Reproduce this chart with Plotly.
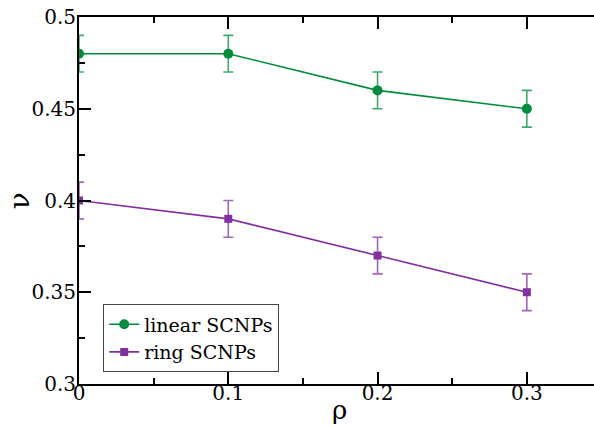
import plotly.graph_objects as go

rho = [0.0, 0.1, 0.2, 0.3]
nu_linear = [0.48, 0.48, 0.46, 0.45]
err_linear = [0.01, 0.01, 0.01, 0.01]
nu_ring = [0.40, 0.39, 0.37, 0.35]
err_ring = [0.01, 0.01, 0.01, 0.01]

green = "rgb(0,140,60)"
purple = "rgb(128,48,160)"
font = "DejaVu Serif"

fig = go.Figure()
fig.add_trace(go.Scatter(
    x=rho, y=nu_linear, mode="lines+markers", name="linear SCNPs",
    line=dict(color=green, width=1.6),
    marker=dict(symbol="circle", size=10, color=green),
    error_y=dict(type="data", array=err_linear, color="rgba(0,140,60,0.75)", thickness=1.6, width=5),
))
fig.add_trace(go.Scatter(
    x=rho, y=nu_ring, mode="lines+markers", name="ring SCNPs",
    line=dict(color=purple, width=1.6),
    marker=dict(symbol="square", size=8, color=purple),
    error_y=dict(type="data", array=err_ring, color="rgba(128,48,160,0.75)", thickness=1.6, width=5),
))

fig.update_layout(
    width=594, height=429,
    margin=dict(l=79, r=0, t=17, b=45, autoexpand=False),
    paper_bgcolor="white", plot_bgcolor="white",
    font=dict(family=font, size=20, color="black"),
    showlegend=True,
    legend=dict(
        x=0.047, y=0.217, xanchor="left", yanchor="top",
        bgcolor="white", bordercolor="#444", borderwidth=1,
        font=dict(family=font, size=19),
        tracegroupgap=0, itemwidth=30,
    ),
    xaxis=dict(
        range=[0, 0.345], showgrid=False, zeroline=False, automargin=False,
        showline=True, linecolor="black", linewidth=2, mirror="ticks",
        ticks="inside", ticklen=12, tickwidth=1.5, tickcolor="black",
        tickvals=[0, 0.1, 0.2, 0.3], ticktext=["0", "0.1", "0.2", "0.3"],
        minor=dict(tickvals=[0.05, 0.15, 0.25], ticks="inside", ticklen=6, tickwidth=1.5, tickcolor="black"),
        tickfont=dict(family=font, size=20), ticklabelstandoff=-10,
    ),
    yaxis=dict(
        range=[0.3, 0.5], showgrid=False, zeroline=False, automargin=False,
        showline=True, linecolor="black", linewidth=2,
        ticks="inside", ticklen=12, tickwidth=1.5, tickcolor="black",
        tickvals=[0.3, 0.35, 0.4, 0.45, 0.5], ticktext=["0.3", "0.35", "0.4", "0.45", "0.5"],
        minor=dict(tickvals=[0.325, 0.375, 0.425, 0.475], ticks="inside", ticklen=6, tickwidth=1.5, tickcolor="black"),
        tickfont=dict(family=font, size=20), ticklabelstandoff=-3,
    ),
    annotations=[
        dict(text="ρ", xref="paper", yref="paper", x=0.505, y=-0.072, xanchor="center", yanchor="middle",
             showarrow=False, font=dict(family=font, size=26)),
        dict(text="ν", xref="paper", yref="paper", x=-0.115, y=0.5, xanchor="center", yanchor="middle",
             textangle=-90, showarrow=False, font=dict(family=font, size=28)),
    ],
)

fig.write_html("out.html")
